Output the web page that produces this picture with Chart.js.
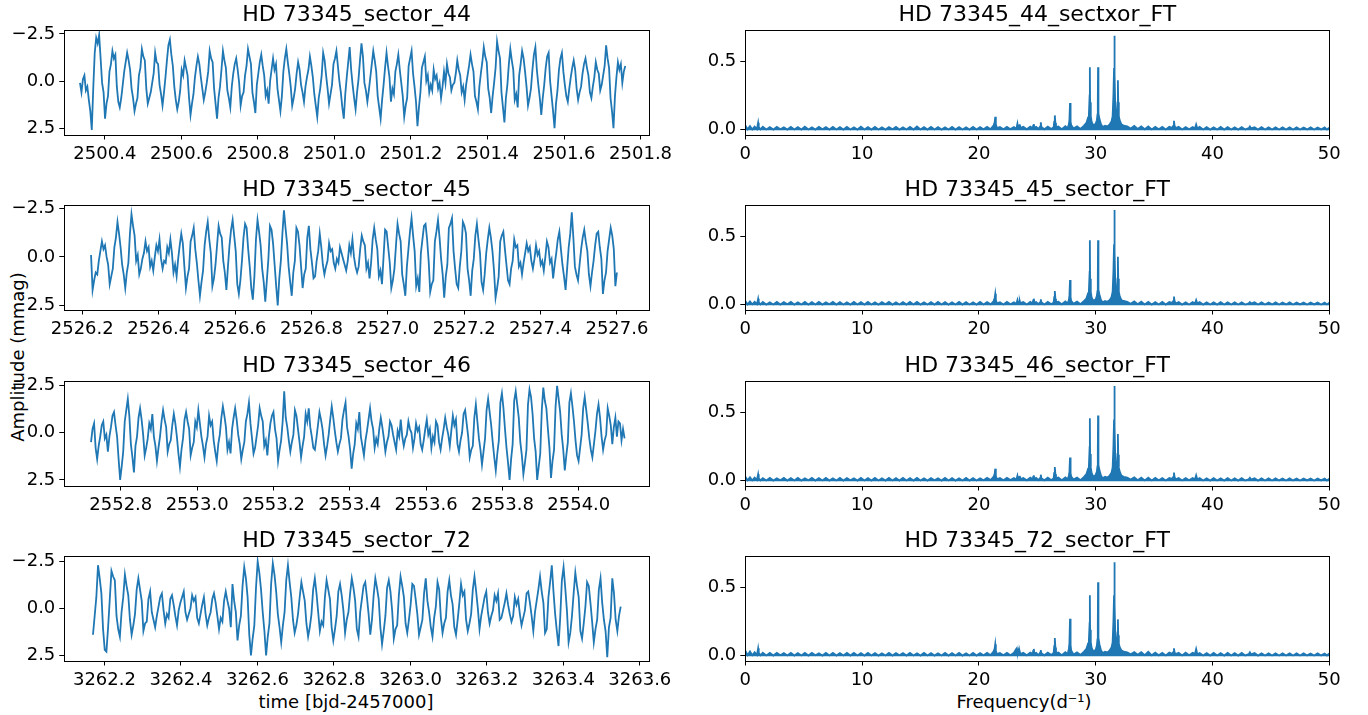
<!DOCTYPE html>
<html>
<head>
<meta charset="utf-8">
<script src="https://cdn.jsdelivr.net/npm/chart.js@4.4.1/dist/chart.umd.min.js"></script>
<style>
  body { margin: 0; background: #fff; width: 1368px; height: 715px; position: relative; overflow: hidden; font-family: "DejaVu Sans", sans-serif; }
  canvas { position: absolute; }
  .lbl { position: absolute; font-size: 18px; line-height: 22px; color: #000; white-space: nowrap; text-align: center; }
</style>
</head>
<body>
<div class="lbl" id="ylab" style="left:-82px;top:346px;width:200px;transform:rotate(-90deg);">Amplitude (mmag)</div>
<div class="lbl" style="left:246px;top:691px;width:200px;">time [bjd-2457000]</div>
<div class="lbl" style="left:924px;top:691px;width:200px;">Frequency(d⁻¹)</div>
<script>
// --- light curves (mmag) ---
const lcTitles = ['HD 73345_sector_44', 'HD 73345_sector_45', 'HD 73345_sector_46', 'HD 73345_sector_72'];
const lcSpan = [[2500.335, 2501.760], [2526.223, 2527.600], [2552.722, 2554.120], [3262.170, 3263.550]];
const lcRangeX = [[2500.294, 2501.822], [2526.153, 2527.684], [2552.652, 2554.184], [3262.095, 3263.624]];
const lcRangeY = [[-2.69, 2.84], [-2.654, 2.705], [-2.73, 2.80], [-2.77, 2.77]];

const lc44 = [0.1,0.6,-0.1,-0.3,0.5,0.3,1.0,1.6,
  2.6,0.4,-1.5,-2.3,-2.0,-2.45,-1.2,0.1,0.6,2.0,
  1.2,0.8,-0.5,-0.9,-1.6,-1.2,-1.4,0.3,1.1,
  1.4,0.9,0.2,-0.5,-1.0,-1.5,-1.1,-0.6,0.4,0.9,
  1.6,1.2,0.9,-0.3,-0.7,-1.7,-1.3,-1.1,0.4,
  1.2,0.9,0.6,0.1,-0.4,-1.5,-1.0,-0.9,0.2,0.7,
  1.3,0.6,-0.2,-1.1,-1.9,-2.2,-1.4,-0.8,0.3,1.0,
  1.5,1.1,0.5,-0.6,-0.3,-1.1,-0.7,-0.3,0.9,
  1.8,1.2,0.7,-0.2,-0.8,-1.3,-0.9,-0.2,0.4,1.0,
  0.6,0.1,-0.5,-1.6,-1.2,-1.0,0.4,1.2,2.0,
  0.9,0.3,-0.6,-1.6,-1.1,-0.7,0.5,0.9,1.4,
  0.3,-0.4,-0.9,-1.2,-0.6,0.1,1.3,0.8,0.6,
  -0.3,-0.8,-1.7,-1.3,-0.9,0.6,1.1,1.7,0.2,
  -0.4,-1.0,-1.4,-0.8,-0.3,0.8,0.5,1.2,0.0,
  -0.6,-1.2,-0.6,-0.9,0.4,1.0,1.6,0.8,-0.5,
  -1.2,-1.7,-1.0,-0.4,0.3,1.3,0.9,0.4,-0.4,
  -1.0,-0.6,0.2,0.6,1.1,0.3,-0.2,-0.6,-1.3,
  -0.8,-0.2,0.7,1.3,1.9,0.9,0.4,-0.3,-1.5,
  -1.1,-0.3,0.4,1.2,0.7,0.2,-0.9,-1.2,-1.6,
  -0.8,0.0,0.6,1.4,2.0,0.7,-0.2,-1.0,-1.8,
  -0.6,0.2,0.9,1.5,0.6,-0.1,-1.1,-2.0,-1.3,
  0.1,0.5,1.1,0.5,-0.2,-0.9,-1.6,-1.1,-0.5,
  0.8,1.4,2.0,1.0,0.2,-0.7,-1.5,-0.8,-0.2,
  1.1,0.4,0.7,-0.5,-0.9,-1.4,-0.6,0.1,0.8,
  1.9,1.3,0.9,-0.8,-1.2,-1.6,-0.4,0.3,1.1,
  2.4,1.4,0.6,-0.7,-1.0,-1.3,0.0,-0.3,0.6,
  0.2,0.5,-0.6,-0.1,-0.3,0.4,0.1,0.9,0.3,
  -0.5,0.1,-0.9,-0.4,-0.2,0.5,0.2,0.1,-0.4,
  -1.1,-0.6,-0.3,0.6,0.3,1.0,0.2,-0.3,-0.8,
  -1.4,-0.9,-0.5,0.8,1.1,1.5,0.3,-0.4,-1.0,
  -1.8,-1.3,-1.0,0.4,0.9,1.7,0.8,0.1,-0.7,
  -2.1,-1.6,-1.2,0.6,1.4,2.2,0.9,0.2,-0.9,
  -1.7,-1.1,-0.6,1.0,0.7,1.4,-0.3,-0.9,-1.6,
  -1.2,-0.5,0.3,1.3,0.9,0.4,-0.6,-1.4,-1.8,
  -0.6,0.2,0.9,1.8,0.9,0.2,-0.7,-1.3,-1.5,
  0.0,0.8,1.6,2.5,1.2,0.5,-0.6,-1.2,-1.5,
  -0.5,0.2,0.8,1.1,0.4,-0.2,-0.7,-1.1,-0.6,
  0.4,1.0,0.6,0.3,-0.4,-0.9,-1.2,-0.7,-0.3,
  0.6,0.9,0.3,-0.2,-1.0,-0.6,-0.4,0.5,
  0.2,-0.3,-0.8,-1.9,-1.2,-0.7,0.9,1.6,2.5,
  0.8,-0.2,-1.0,-0.6,-0.9,0.1,-0.5,-0.8];

const lc45 = [-0.1,1.7,1.2,0.8,0.9,0.2,-0.3,-0.8,-0.4,
  -0.6,0.0,0.4,1.4,1.0,0.6,-0.5,-1.0,-1.8,
  -1.2,-0.5,0.4,0.9,1.6,0.8,0.3,-1.2,-2.2,
  -1.6,-1.1,0.2,-0.1,0.9,0.6,0.1,-0.2,-0.8,
  -0.3,-0.5,0.5,0.2,0.7,0.0,-0.6,-0.3,-0.9,
  0.1,0.6,0.2,0.3,-0.5,-0.2,-0.9,-0.2,
  0.8,0.4,1.0,0.1,-0.6,-1.2,-0.7,0.5,
  1.6,1.0,0.6,-0.8,-1.1,-1.5,-0.4,0.3,1.2,
  2.0,1.3,0.7,-0.6,-1.3,-1.8,-0.9,-0.2,1.5,
  1.1,0.4,-0.6,-1.6,-1.2,-1.0,0.2,0.8,1.7,
  0.5,-0.6,-1.4,-1.9,-1.1,-0.3,1.4,1.9,1.2,
  0.2,-1.0,-1.7,-1.5,-0.4,0.5,1.6,2.2,1.0,
  -0.9,-1.9,-1.3,-0.6,0.6,1.3,2.3,1.2,0.1,
  -1.6,-1.4,-0.7,0.4,1.5,2.5,1.1,0.2,-1.2,
  -2.4,-1.5,-0.7,0.5,1.3,2.0,0.8,0.2,-1.5,
  -1.3,-0.6,0.5,1.6,0.9,0.6,-1.0,-1.6,
  -0.4,0.3,1.1,1.0,0.2,-0.3,-1.2,-0.5,
  0.4,0.9,0.5,0.2,-0.7,-0.3,-0.4,0.3,
  0.6,0.1,0.3,-0.5,-0.2,0.1,0.4,0.7,
  0.2,-0.6,-0.2,-0.9,0.0,0.5,0.8,0.5,
  -0.4,-1.1,-0.8,-0.6,0.6,0.3,1.1,0.3,
  -0.9,-1.5,-0.9,-0.4,1.0,0.7,1.4,0.0,
  -1.4,-1.3,-0.5,0.3,1.6,1.2,0.6,-0.6,
  -1.7,-1.2,-0.8,0.9,1.4,2.0,0.5,-0.4,-1.3,
  -2.0,-1.1,-0.3,1.5,1.1,1.8,-0.2,-0.9,-1.6,
  -1.7,-0.9,0.2,1.8,1.4,1.2,-0.8,-1.3,-1.9,
  -1.0,0.1,0.9,2.1,1.0,0.4,-1.5,-1.7,-2.0,
  -0.3,0.6,1.4,1.6,0.5,-0.3,-1.8,-1.6,-1.2,
  0.6,1.2,2.0,0.7,0.1,-1.1,-1.7,-0.9,-0.2,
  1.3,1.7,0.9,-0.2,-0.9,-1.5,-1.0,-0.3,0.7,
  2.1,1.6,1.0,-0.8,-1.1,-1.3,-0.4,0.4,1.2,
  1.4,0.6,0.2,-0.9,-0.5,-0.6,0.5,0.3,0.9,
  0.3,-0.2,-0.7,-0.3,-0.5,0.2,0.6,0.1,
  -0.6,-0.1,-0.3,0.4,0.2,0.7,0.0,-0.8,
  -0.5,0.3,0.1,1.1,0.4,-0.2,-0.9,-1.3,
  -0.4,0.4,1.0,1.7,0.6,-0.5,-1.2,-2.3,-1.0,
  0.5,0.9,1.2,0.4,-0.4,-1.0,-1.4,-0.8,-0.3,
  0.9,1.5,0.8,0.2,-0.6,-1.2,-1.3,-0.5,0.1,
  1.9,1.2,0.8,-0.3,-0.9,-1.5,-1.1,-0.4,1.5,
  0.8];

const lc46 = [0.5,-0.2,-0.5,0.8,1.4,0.7,0.2,-0.4,-0.6,
  0.3,0.1,1.0,0.2,-0.3,-0.9,-1.1,-0.4,0.2,
  1.4,2.5,1.8,1.0,-0.6,-1.2,-1.8,-0.9,
  0.6,1.3,2.1,0.7,0.2,-0.8,-1.3,-0.7,0.1,
  1.2,0.8,0.3,-0.5,-0.2,-1.0,0.2,0.7,1.5,
  0.8,0.2,-0.6,-1.2,-0.7,-0.3,1.0,0.6,0.4,
  -0.4,-1.0,-0.5,0.2,1.1,1.8,0.9,0.3,-0.7,
  -1.1,-0.6,-0.2,1.2,0.8,0.5,-0.6,-0.3,-1.2,
  -0.5,0.2,0.7,1.3,0.6,0.2,-0.9,-0.4,-0.6,
  0.4,1.0,1.5,0.6,0.1,-0.8,-1.4,-0.9,-0.3,
  0.9,0.5,1.1,-0.2,-0.8,-1.3,-0.7,0.1,0.6,
  1.4,0.9,0.5,-0.6,-1.0,-1.6,-0.5,0.3,1.1,
  0.8,0.2,-0.4,-1.3,-0.9,-0.6,0.7,0.4,1.2,
  0.2,-0.5,-0.9,-1.1,-0.2,0.3,1.5,0.9,0.4,
  -0.6,-2.2,-0.8,-0.3,0.4,1.0,0.5,0.1,-1.2,
  -0.9,-0.2,0.5,1.3,0.7,0.2,-1.0,-0.6,-1.3,
  -0.3,0.2,0.8,0.9,0.3,-0.4,-1.1,-0.7,-0.2,
  0.6,1.2,0.7,0.1,-0.7,-1.4,-0.8,-0.1,0.5,
  1.0,0.6,0.3,-0.7,-1.2,-1.6,-0.3,0.2,0.9,
  1.9,1.1,0.6,-0.5,-0.2,-1.1,0.2,0.7,1.2,
  0.4,-0.1,-0.7,-1.3,-0.6,-0.2,0.8,0.3,0.6,
  -0.2,-0.8,-0.3,0.3,1.0,0.5,0.2,-0.6,
  -0.4,0.1,0.5,0.9,-0.1,0.2,-0.7,0.2,
  0.7,0.3,0.1,-0.6,-0.2,0.0,0.8,0.3,
  -0.5,-0.1,-0.3,0.6,0.9,0.4,-0.2,-0.7,
  0.1,-0.2,0.8,0.2,0.5,-0.6,-0.4,0.5,
  0.9,0.3,-0.2,-0.8,-0.3,0.1,0.7,-0.1,
  -0.9,-0.4,-0.7,0.6,1.0,0.4,0.0,-1.0,
  -1.2,-0.5,0.2,1.3,0.9,0.7,-0.8,-1.5,
  -0.6,0.3,0.9,1.7,1.0,0.3,-1.2,-1.8,-1.1,
  -0.4,0.5,1.3,2.0,1.1,0.4,-1.6,-2.1,-1.3,
  -0.2,0.8,1.6,2.5,1.4,0.6,-1.7,-2.2,-1.5,
  -0.8,0.5,1.2,2.2,1.6,0.9,-1.5,-2.3,-1.9,
  -1.0,0.3,1.0,2.5,1.8,1.1,-1.2,-2.4,-1.7,
  -1.3,-0.2,0.8,2.4,1.5,0.9,-1.4,-2.5,-1.8,
  -1.1,0.1,0.9,2.0,1.2,0.5,-1.6,-2.1,-1.4,
  -0.6,0.4,1.2,1.5,0.8,0.1,-1.3,-1.9,-1.2,
  -0.5,0.3,0.9,1.3,0.6,-0.1,-1.0,-1.5,-0.8,
  0.2,0.9,0.4,0.1,-1.3,-0.9,-0.4,0.6,
  -0.3,-0.8,0.2,-0.6,-0.5,0.4,-0.2,0.3];

const lc72 = [1.4,0.4,-0.6,-2.3,-1.6,-0.8,1.1,2.2,2.3,
  1.0,-0.5,-2.0,-1.7,-1.5,0.4,1.1,1.5,0.2,
  -0.6,-1.8,-1.2,-0.7,0.6,1.4,0.9,0.3,-1.0,
  -1.6,-1.0,-0.4,1.2,0.8,0.7,-0.5,-0.9,
  0.2,0.6,1.0,0.4,-0.1,-0.6,-0.8,0.1,
  0.8,0.3,0.5,-0.5,-0.7,-0.2,0.4,0.9,
  0.1,-0.3,-0.6,-0.9,0.2,0.6,0.3,0.0,
  -0.7,-0.4,-0.6,0.5,0.8,0.3,-0.2,-0.6,
  0.3,0.9,0.5,0.2,-0.5,-0.8,-0.3,0.4,
  1.1,0.5,0.7,-0.4,-0.9,-0.4,0.0,1.0,
  -1.3,-0.4,0.2,1.7,0.9,0.4,-1.2,-2.2,
  -1.6,-0.6,1.4,2.5,1.6,0.9,-1.1,-2.5,-1.9,
  -1.0,0.2,1.2,2.5,1.5,0.8,-1.3,-2.4,-1.8,
  -0.9,0.3,1.0,1.8,0.9,0.2,-1.5,-2.3,-1.4,
  -0.6,0.6,1.3,0.9,0.3,-0.6,-1.4,-0.9,-0.4,
  0.8,1.5,1.0,0.3,-1.0,-1.6,-0.8,0.2,
  1.2,0.7,0.9,-0.6,-1.5,-1.0,-0.5,1.0,
  1.7,1.1,0.4,-0.9,-1.3,-0.7,0.1,1.3,
  0.6,0.2,-0.8,-1.6,-1.1,-0.4,1.1,1.5,
  0.2,-0.5,-1.2,-1.4,-0.6,0.3,1.4,0.6,
  -0.7,-1.6,-1.1,-0.5,1.0,1.9,1.2,0.4,
  -1.1,-1.5,-0.9,0.1,1.6,1.1,0.9,-0.7,
  -1.7,-1.2,-0.6,0.8,1.3,0.6,-0.2,-1.3,
  -1.2,-0.5,0.3,1.4,1.0,0.6,-0.8,-1.6,
  -0.4,0.2,1.0,1.5,0.5,-0.1,-1.4,-1.0,
  0.5,1.3,0.8,0.5,-0.9,-1.5,-0.7,-0.2,
  1.0,1.4,0.6,-0.3,-1.3,-0.7,-0.9,0.6,
  1.2,0.8,0.3,-1.0,-1.7,-0.9,0.0,1.1,
  0.4,-0.1,-0.6,-0.9,0.2,0.8,0.4,0.1,
  -0.7,-0.4,-0.8,0.6,0.5,0.1,-0.3,-0.8,
  -0.2,0.3,0.7,0.4,-0.6,-0.2,-0.5,0.3,
  0.9,0.5,0.1,-0.8,-0.9,-0.3,0.4,1.2,
  0.2,-0.4,-1.0,-1.7,-0.9,-0.3,1.3,1.1,
  -0.6,-1.4,-2.3,-0.9,0.3,1.2,2.0,0.5,
  -1.5,-2.2,-1.1,0.1,1.8,1.3,0.4,-0.8,
  -1.9,-1.2,-0.6,1.2,1.6,0.8,-0.1,-1.4,
  -1.2,-0.3,0.7,1.8,1.1,0.6,-1.0,-1.6,
  -0.3,0.6,1.2,2.6,1.0,0.5,-1.6,-0.8,
  0.6,1.2,0.4,-0.1];

const lcXTicks = [
  [2500.4, 2500.6, 2500.8, 2501.0, 2501.2, 2501.4, 2501.6, 2501.8],
  [2526.2, 2526.4, 2526.6, 2526.8, 2527.0, 2527.2, 2527.4, 2527.6],
  [2552.8, 2553.0, 2553.2, 2553.4, 2553.6, 2553.8, 2554.0],
  [3262.2, 3262.4, 3262.6, 3262.8, 3263.0, 3263.2, 3263.4, 3263.6]
];
const lcYTicks = [-2.5, 0, 2.5];

// --- amplitude spectra (mmag vs d^-1) ---
const ftTitles = ['HD 73345_44_sectxor_FT', 'HD 73345_45_sector_FT', 'HD 73345_46_sector_FT', 'HD 73345_72_sector_FT'];
const ftFreq = [0,0.2,0.4,0.6,0.8,1.0,1.05,1.1,1.15,1.3,
  1.5,1.8,2.1,2.4,2.7,3.0,3.3,3.6,3.9,4.2,
  4.5,4.8,5.1,5.4,5.7,6.0,6.3,6.6,6.9,7.2,
  7.5,7.8,8.1,8.4,8.7,9.0,9.3,9.6,9.9,10.2,
  10.5,10.8,11.1,11.4,11.7,12.0,12.3,12.6,12.9,13.2,
  13.5,13.8,14.1,14.4,14.7,15.0,15.3,15.6,15.9,16.2,
  16.5,16.8,17.1,17.4,17.7,18.0,18.3,18.6,18.9,19.2,
  19.5,19.8,20.1,20.4,20.7,21.0,21.25,21.35,21.4,21.45,
  21.55,21.8,22.1,22.4,22.7,23.0,23.2,23.25,23.3,23.35,
  23.45,23.5,23.55,23.8,24.1,24.4,24.6,24.65,24.7,24.75,
  24.9,25.1,25.25,25.3,25.35,25.6,25.9,26.2,26.4,26.45,
  26.5,26.55,26.6,26.8,27.1,27.4,27.6,27.7,27.75,27.8,
  27.85,27.9,28.1,28.4,28.7,29.0,29.2,29.35,29.42,29.48,
  29.5,29.52,29.58,29.65,29.8,30.0,30.1,30.15,30.18,30.2,
  30.22,30.25,30.32,30.45,30.6,30.8,31.0,31.2,31.35,31.45,
  31.52,31.57,31.6,31.63,31.68,31.75,31.82,31.87,31.9,31.93,
  31.98,32.05,32.2,32.4,32.7,33.0,33.3,33.6,33.9,34.2,
  34.5,34.8,35.1,35.4,35.7,36.0,36.3,36.55,36.65,36.7,
  36.75,36.85,37.1,37.4,37.7,38.0,38.3,38.5,38.6,38.7,
  38.9,39.2,39.5,39.8,40.1,40.4,40.7,41.0,41.3,41.6,
  41.9,42.2,42.5,42.8,43.1,43.2,43.3,43.6,43.9,44.2,
  44.5,44.8,45.1,45.4,45.7,46.0,46.3,46.6,46.9,47.2,
  47.5,47.8,48.1,48.4,48.7,49.0,49.3,49.6,49.8,50.0];

const ft44 = [0.032,0.004,0.028,0.003,0.024,0.006,0.03,0.052,0.02,0.004,
  0.022,0.003,0.02,0.002,0.021,0.004,0.019,0.002,0.022,0.003,
  0.02,0.002,0.023,0.003,0.019,0.002,0.021,0.004,0.02,0.002,
  0.022,0.003,0.02,0.002,0.021,0.003,0.019,0.002,0.023,0.003,
  0.02,0.002,0.021,0.003,0.019,0.002,0.02,0.004,0.021,0.002,
  0.019,0.003,0.022,0.002,0.024,0.003,0.02,0.002,0.021,0.003,
  0.02,0.002,0.019,0.003,0.021,0.002,0.02,0.003,0.019,0.002,
  0.021,0.003,0.02,0.004,0.022,0.005,0.03,0.055,0.095,0.04,
  0.012,0.02,0.004,0.022,0.005,0.02,0.01,0.025,0.045,0.02,
  0.03,0.04,0.015,0.022,0.004,0.024,0.012,0.03,0.042,0.015,
  0.022,0.006,0.025,0.055,0.02,0.004,0.024,0.006,0.02,0.06,
  0.105,0.05,0.02,0.025,0.005,0.026,0.012,0.04,0.07,0.195,
  0.06,0.035,0.01,0.025,0.006,0.03,0.05,0.09,0.12,0.25,
  0.455,0.2,0.1,0.06,0.03,0.045,0.07,0.11,0.2,0.455,
  0.25,0.12,0.08,0.04,0.02,0.03,0.025,0.04,0.06,0.1,
  0.26,0.45,0.685,0.4,0.15,0.1,0.12,0.2,0.36,0.2,
  0.1,0.07,0.04,0.03,0.025,0.01,0.028,0.006,0.025,0.004,
  0.024,0.003,0.022,0.004,0.021,0.003,0.022,0.015,0.03,0.066,
  0.03,0.012,0.022,0.003,0.02,0.004,0.021,0.012,0.04,0.01,
  0.021,0.003,0.02,0.002,0.019,0.003,0.021,0.002,0.02,0.003,
  0.019,0.002,0.02,0.003,0.012,0.025,0.01,0.019,0.002,0.02,
  0.003,0.018,0.002,0.019,0.003,0.018,0.002,0.019,0.003,0.018,
  0.002,0.017,0.003,0.018,0.002,0.017,0.003,0.018,0.002,0.016];

const ft45 = [0.028,0.003,0.024,0.004,0.022,0.005,0.025,0.045,0.018,0.003,
  0.021,0.002,0.019,0.003,0.022,0.002,0.02,0.004,0.021,0.002,
  0.019,0.003,0.021,0.002,0.02,0.003,0.022,0.002,0.019,0.004,
  0.021,0.002,0.02,0.003,0.019,0.002,0.022,0.003,0.02,0.002,
  0.021,0.003,0.019,0.002,0.02,0.004,0.021,0.002,0.019,0.003,
  0.02,0.002,0.021,0.003,0.022,0.002,0.019,0.003,0.02,0.002,
  0.021,0.003,0.02,0.002,0.019,0.003,0.021,0.002,0.02,0.003,
  0.019,0.002,0.021,0.003,0.02,0.004,0.025,0.05,0.08,0.035,
  0.01,0.019,0.003,0.021,0.004,0.019,0.008,0.02,0.035,0.015,
  0.022,0.028,0.012,0.02,0.003,0.022,0.01,0.032,0.045,0.014,
  0.02,0.005,0.02,0.04,0.018,0.003,0.022,0.005,0.018,0.055,
  0.1,0.045,0.018,0.023,0.004,0.024,0.01,0.035,0.065,0.18,
  0.055,0.03,0.008,0.023,0.005,0.028,0.045,0.085,0.11,0.24,
  0.47,0.19,0.095,0.055,0.028,0.04,0.065,0.1,0.19,0.47,
  0.24,0.11,0.075,0.035,0.018,0.028,0.022,0.035,0.055,0.095,
  0.25,0.44,0.69,0.39,0.14,0.095,0.11,0.19,0.35,0.19,
  0.095,0.065,0.035,0.028,0.022,0.008,0.025,0.005,0.023,0.003,
  0.022,0.002,0.02,0.003,0.021,0.002,0.02,0.014,0.028,0.06,
  0.028,0.01,0.02,0.002,0.019,0.003,0.02,0.01,0.035,0.009,
  0.02,0.002,0.019,0.003,0.018,0.002,0.02,0.003,0.019,0.002,
  0.018,0.003,0.019,0.002,0.01,0.02,0.009,0.018,0.003,0.019,
  0.002,0.017,0.003,0.018,0.002,0.017,0.003,0.018,0.002,0.017,
  0.003,0.016,0.002,0.017,0.003,0.016,0.002,0.017,0.003,0.016];

const ft46 = [0.03,0.004,0.026,0.003,0.023,0.006,0.028,0.048,0.019,0.003,
  0.02,0.003,0.022,0.002,0.019,0.004,0.021,0.002,0.02,0.003,
  0.021,0.002,0.019,0.004,0.022,0.002,0.02,0.003,0.021,0.002,
  0.019,0.003,0.021,0.002,0.02,0.004,0.019,0.002,0.022,0.003,
  0.02,0.002,0.022,0.003,0.019,0.002,0.021,0.003,0.02,0.002,
  0.022,0.003,0.02,0.002,0.021,0.003,0.019,0.002,0.02,0.004,
  0.019,0.002,0.021,0.003,0.02,0.002,0.019,0.003,0.021,0.002,
  0.02,0.003,0.019,0.004,0.021,0.005,0.028,0.05,0.088,0.035,
  0.011,0.02,0.004,0.021,0.005,0.02,0.009,0.022,0.038,0.018,
  0.026,0.035,0.013,0.021,0.004,0.023,0.011,0.028,0.04,0.014,
  0.021,0.005,0.022,0.045,0.019,0.004,0.023,0.005,0.019,0.058,
  0.1,0.048,0.019,0.024,0.005,0.025,0.011,0.037,0.065,0.17,
  0.055,0.032,0.009,0.024,0.005,0.029,0.048,0.088,0.115,0.245,
  0.455,0.195,0.098,0.058,0.029,0.043,0.068,0.105,0.2,0.475,
  0.245,0.115,0.078,0.038,0.019,0.029,0.024,0.038,0.058,0.098,
  0.255,0.445,0.69,0.395,0.145,0.098,0.115,0.195,0.34,0.19,
  0.098,0.068,0.038,0.029,0.023,0.009,0.026,0.005,0.024,0.003,
  0.023,0.003,0.021,0.004,0.02,0.003,0.021,0.014,0.029,0.06,
  0.029,0.011,0.021,0.003,0.02,0.004,0.02,0.011,0.04,0.01,
  0.02,0.003,0.019,0.002,0.02,0.003,0.019,0.002,0.02,0.003,
  0.019,0.002,0.02,0.003,0.011,0.022,0.009,0.019,0.002,0.019,
  0.003,0.018,0.002,0.018,0.003,0.017,0.002,0.018,0.003,0.017,
  0.002,0.017,0.003,0.017,0.002,0.016,0.003,0.017,0.002,0.016];

const ft72 = [0.038,0.005,0.032,0.004,0.026,0.006,0.03,0.055,0.022,0.004,
  0.023,0.003,0.021,0.002,0.022,0.004,0.02,0.003,0.022,0.002,
  0.02,0.003,0.022,0.002,0.021,0.004,0.019,0.002,0.021,0.003,
  0.022,0.002,0.02,0.003,0.021,0.002,0.022,0.003,0.02,0.002,
  0.021,0.003,0.02,0.002,0.019,0.003,0.021,0.002,0.02,0.004,
  0.02,0.002,0.021,0.003,0.019,0.002,0.022,0.003,0.02,0.002,
  0.019,0.003,0.021,0.002,0.02,0.003,0.021,0.002,0.019,0.003,
  0.021,0.002,0.02,0.004,0.022,0.005,0.03,0.052,0.085,0.035,
  0.012,0.021,0.004,0.022,0.005,0.022,0.05,0.03,0.025,0.048,
  0.02,0.03,0.012,0.022,0.004,0.024,0.014,0.035,0.05,0.016,
  0.022,0.005,0.024,0.042,0.018,0.004,0.024,0.006,0.022,0.07,
  0.13,0.06,0.02,0.025,0.005,0.026,0.014,0.05,0.09,0.27,
  0.08,0.04,0.01,0.026,0.006,0.03,0.05,0.09,0.12,0.24,
  0.44,0.19,0.1,0.06,0.03,0.045,0.075,0.12,0.22,0.535,
  0.26,0.13,0.085,0.04,0.02,0.03,0.025,0.04,0.06,0.1,
  0.26,0.44,0.68,0.38,0.14,0.1,0.11,0.17,0.265,0.15,
  0.09,0.065,0.04,0.03,0.026,0.012,0.028,0.008,0.026,0.005,
  0.03,0.004,0.023,0.004,0.022,0.003,0.024,0.015,0.028,0.055,
  0.026,0.012,0.022,0.003,0.024,0.005,0.022,0.014,0.05,0.012,
  0.021,0.003,0.02,0.002,0.022,0.003,0.02,0.002,0.021,0.003,
  0.02,0.002,0.021,0.003,0.012,0.026,0.01,0.02,0.002,0.019,
  0.003,0.018,0.002,0.019,0.003,0.018,0.002,0.019,0.003,0.018,
  0.002,0.018,0.003,0.017,0.002,0.018,0.003,0.017,0.002,0.017];

const ftXTicks = [0, 10, 20, 30, 40, 50];
const ftYTicks = [0, 0.5];
const ftRangeY = [-0.034, 0.723];

const panelTops = [30.7, 205.7, 381.7, 556.7];
const lcSeries = [lc44, lc45, lc46, lc72];
const ftSeries = [ft44, ft45, ft46, ft72];

// --- drawing ---
Chart.defaults.font.family = "'DejaVu Sans', sans-serif";
Chart.defaults.color = '#000';
Chart.defaults.animation = false;

const LINE = '#1f77b4';
const TITLE_H = 30.4;   // title block (22px * 1.2 + 4)
const PLOT_H = 104.1;
const XAX_H = 30.3;

// matplotlib-ish box around the axes
const framePlugin = {
  id: 'frame',
  afterDraw(chart) {
    const { ctx, chartArea: a } = chart;
    ctx.save();
    ctx.strokeStyle = '#000';
    ctx.lineWidth = 1;
    ctx.strokeRect(Math.round(a.left) + 0.5, Math.round(a.top) + 0.5,
      Math.round(a.right) - Math.round(a.left), Math.round(a.bottom) - Math.round(a.top));
    ctx.restore();
  }
};

function fmtMinus(v, digits) {
  const s = Math.abs(v).toFixed(digits);
  return v < 0 ? '\u2212' + s : s;
}

function axis(min, max, ticks, fmt, fit, reverse) {
  return {
    type: 'linear',
    min: min, max: max,
    reverse: !!reverse,
    afterBuildTicks: s => { s.ticks = ticks.map(v => ({ value: v })); },
    afterFit: fit,
    ticks: { callback: v => fmt(v), font: { size: 18 }, color: '#000', padding: 4, autoSkip: false, maxRotation: 0, includeBounds: false },
    grid: { drawOnChartArea: false, drawTicks: true, tickLength: 5, color: '#000', lineWidth: 1 },
    border: { display: false }
  };
}

function makePanel(left, top, width, padRight, title, points, xr, xt, xfmt, yr, yt, yfmt, reverse, fill) {
  const canvas = document.createElement('canvas');
  const h = Math.ceil(TITLE_H + PLOT_H + XAX_H);
  canvas.width = width; canvas.height = h;
  canvas.style.left = left + 'px';
  canvas.style.top = (top - TITLE_H) + 'px';
  canvas.style.width = width + 'px';
  canvas.style.height = h + 'px';
  document.body.appendChild(canvas);

  return new Chart(canvas, {
    type: 'line',
    data: {
      datasets: [{
        data: points,
        borderColor: LINE,
        backgroundColor: LINE,
        borderWidth: 1.8,
        pointRadius: 0,
        tension: 0,
        // the dense FT noise reads as a solid band down to zero
        fill: fill ? { value: -0.003 } : false
      }]
    },
    options: {
      responsive: false,
      devicePixelRatio: 1,
      layout: { padding: { left: 0, right: padRight, top: 0, bottom: h - TITLE_H - PLOT_H - XAX_H } },
      plugins: {
        legend: { display: false },
        tooltip: { enabled: false },
        title: {
          display: true, text: title, fullSize: false,
          font: { size: 22, weight: 'normal' }, color: '#000',
          padding: { top: 2, bottom: 2 }
        }
      },
      scales: {
        x: axis(xr[0], xr[1], xt, xfmt, s => { s.height = XAX_H; }),
        y: axis(yr[0], yr[1], yt, yfmt, s => { s.width = 64.3; }, reverse)
      }
    },
    plugins: [framePlugin]
  });
}

for (let i = 0; i < 4; i++) {
  const vals = lcSeries[i];
  const [t0, t1] = lcSpan[i];
  const dt = (t1 - t0) / (vals.length - 1);   // fixed cadence
  const pts = vals.map((v, k) => ({ x: t0 + k * dt, y: v }));
  makePanel(0, panelTops[i], 680, 680 - 649, lcTitles[i], pts,
    lcRangeX[i], lcXTicks[i], v => v.toFixed(1),
    lcRangeY[i], lcYTicks, v => fmtMinus(v, 1), true, false);

  const amp = ftSeries[i];
  const n = Math.min(ftFreq.length, amp.length);
  const fpts = ftFreq.slice(0, n).map((f, k) => ({ x: f, y: amp[k] }));
  makePanel(681, panelTops[i], 687, 1368 - 1329.3, ftTitles[i], fpts,
    [0, 50], ftXTicks, v => String(v),
    ftRangeY, ftYTicks, v => v.toFixed(1), false, true);
}
</script>
</body>
</html>
